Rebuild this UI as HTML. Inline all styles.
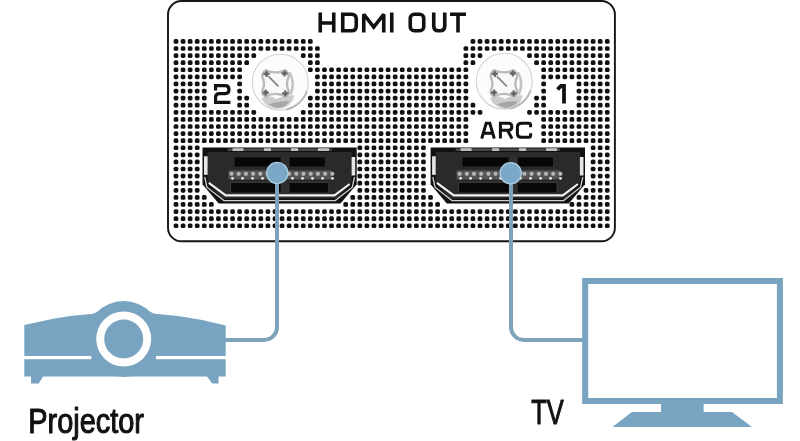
<!DOCTYPE html>
<html><head><meta charset="utf-8"><style>
html,body{margin:0;padding:0;background:#fff;}
svg{display:block;}
text{font-family:"Liberation Sans",sans-serif;}
</style></head><body>
<svg width="800" height="441" viewBox="0 0 800 441"><g style="transform:translateZ(0)">
<rect x="168" y="1" width="446.9" height="240.3" rx="13.5" fill="#fff" stroke="#151515" stroke-width="1.9"/>
<g fill="none" stroke="#111" stroke-width="3.6" stroke-linejoin="miter" stroke-miterlimit="3">
<path d="M320.25,12.5 V32.5 M333.75,12.5 V32.5 M320.25,23 H333.75"/>
<path d="M342.75,14.25 H351.5 Q356.25,14.25 356.25,19 V26 Q356.25,30.75 351.5,30.75 H342.75 Z"/>
<path d="M363.75,32.5 V14.25 L373.75,27 L383.75,14.25 V32.5"/>
<path d="M391.75,12.5 V32.5"/>
<rect x="410.25" y="14.25" width="13.5" height="16.5" rx="4"/>
<path d="M433.75,12.5 V26 Q433.75,30.75 438.5,30.75 H440 Q444.75,30.75 444.75,26 V12.5"/>
<path d="M450,14.25 H466 M458,14.25 V32.5"/>
</g>
<g fill="#111"><rect x="173.65" y="39.05" width="4.7" height="4.7" rx="1.6"/><rect x="180.72" y="39.05" width="4.7" height="4.7" rx="1.6"/><rect x="187.79" y="39.05" width="4.7" height="4.7" rx="1.6"/><rect x="194.86" y="39.05" width="4.7" height="4.7" rx="1.6"/><rect x="201.93" y="39.05" width="4.7" height="4.7" rx="1.6"/><rect x="209.00" y="39.05" width="4.7" height="4.7" rx="1.6"/><rect x="216.07" y="39.05" width="4.7" height="4.7" rx="1.6"/><rect x="223.14" y="39.05" width="4.7" height="4.7" rx="1.6"/><rect x="230.21" y="39.05" width="4.7" height="4.7" rx="1.6"/><rect x="237.28" y="39.05" width="4.7" height="4.7" rx="1.6"/><rect x="244.35" y="39.05" width="4.7" height="4.7" rx="1.6"/><rect x="251.42" y="39.05" width="4.7" height="4.7" rx="1.6"/><rect x="258.49" y="39.05" width="4.7" height="4.7" rx="1.6"/><rect x="265.56" y="39.05" width="4.7" height="4.7" rx="1.6"/><rect x="272.63" y="39.05" width="4.7" height="4.7" rx="1.6"/><rect x="279.70" y="39.05" width="4.7" height="4.7" rx="1.6"/><rect x="286.77" y="39.05" width="4.7" height="4.7" rx="1.6"/><rect x="293.84" y="39.05" width="4.7" height="4.7" rx="1.6"/><rect x="300.91" y="39.05" width="4.7" height="4.7" rx="1.6"/><rect x="307.98" y="39.05" width="4.7" height="4.7" rx="1.6"/><rect x="470.59" y="39.05" width="4.7" height="4.7" rx="1.6"/><rect x="477.66" y="39.05" width="4.7" height="4.7" rx="1.6"/><rect x="484.73" y="39.05" width="4.7" height="4.7" rx="1.6"/><rect x="491.80" y="39.05" width="4.7" height="4.7" rx="1.6"/><rect x="498.87" y="39.05" width="4.7" height="4.7" rx="1.6"/><rect x="505.94" y="39.05" width="4.7" height="4.7" rx="1.6"/><rect x="513.01" y="39.05" width="4.7" height="4.7" rx="1.6"/><rect x="520.08" y="39.05" width="4.7" height="4.7" rx="1.6"/><rect x="527.15" y="39.05" width="4.7" height="4.7" rx="1.6"/><rect x="534.22" y="39.05" width="4.7" height="4.7" rx="1.6"/><rect x="541.29" y="39.05" width="4.7" height="4.7" rx="1.6"/><rect x="548.36" y="39.05" width="4.7" height="4.7" rx="1.6"/><rect x="555.43" y="39.05" width="4.7" height="4.7" rx="1.6"/><rect x="562.50" y="39.05" width="4.7" height="4.7" rx="1.6"/><rect x="569.57" y="39.05" width="4.7" height="4.7" rx="1.6"/><rect x="576.64" y="39.05" width="4.7" height="4.7" rx="1.6"/><rect x="583.71" y="39.05" width="4.7" height="4.7" rx="1.6"/><rect x="590.78" y="39.05" width="4.7" height="4.7" rx="1.6"/><rect x="597.85" y="39.05" width="4.7" height="4.7" rx="1.6"/><rect x="604.92" y="39.05" width="4.7" height="4.7" rx="1.6"/><rect x="173.65" y="46.14" width="4.7" height="4.7" rx="1.6"/><rect x="180.72" y="46.14" width="4.7" height="4.7" rx="1.6"/><rect x="187.79" y="46.14" width="4.7" height="4.7" rx="1.6"/><rect x="194.86" y="46.14" width="4.7" height="4.7" rx="1.6"/><rect x="201.93" y="46.14" width="4.7" height="4.7" rx="1.6"/><rect x="209.00" y="46.14" width="4.7" height="4.7" rx="1.6"/><rect x="216.07" y="46.14" width="4.7" height="4.7" rx="1.6"/><rect x="223.14" y="46.14" width="4.7" height="4.7" rx="1.6"/><rect x="230.21" y="46.14" width="4.7" height="4.7" rx="1.6"/><rect x="237.28" y="46.14" width="4.7" height="4.7" rx="1.6"/><rect x="244.35" y="46.14" width="4.7" height="4.7" rx="1.6"/><rect x="251.42" y="46.14" width="4.7" height="4.7" rx="1.6"/><rect x="258.49" y="46.14" width="4.7" height="4.7" rx="1.6"/><rect x="265.56" y="46.14" width="4.7" height="4.7" rx="1.6"/><rect x="272.63" y="46.14" width="4.7" height="4.7" rx="1.6"/><rect x="279.70" y="46.14" width="4.7" height="4.7" rx="1.6"/><rect x="286.77" y="46.14" width="4.7" height="4.7" rx="1.6"/><rect x="293.84" y="46.14" width="4.7" height="4.7" rx="1.6"/><rect x="300.91" y="46.14" width="4.7" height="4.7" rx="1.6"/><rect x="307.98" y="46.14" width="4.7" height="4.7" rx="1.6"/><rect x="315.05" y="46.14" width="4.7" height="4.7" rx="1.6"/><rect x="463.52" y="46.14" width="4.7" height="4.7" rx="1.6"/><rect x="470.59" y="46.14" width="4.7" height="4.7" rx="1.6"/><rect x="477.66" y="46.14" width="4.7" height="4.7" rx="1.6"/><rect x="484.73" y="46.14" width="4.7" height="4.7" rx="1.6"/><rect x="491.80" y="46.14" width="4.7" height="4.7" rx="1.6"/><rect x="498.87" y="46.14" width="4.7" height="4.7" rx="1.6"/><rect x="505.94" y="46.14" width="4.7" height="4.7" rx="1.6"/><rect x="513.01" y="46.14" width="4.7" height="4.7" rx="1.6"/><rect x="520.08" y="46.14" width="4.7" height="4.7" rx="1.6"/><rect x="527.15" y="46.14" width="4.7" height="4.7" rx="1.6"/><rect x="534.22" y="46.14" width="4.7" height="4.7" rx="1.6"/><rect x="541.29" y="46.14" width="4.7" height="4.7" rx="1.6"/><rect x="548.36" y="46.14" width="4.7" height="4.7" rx="1.6"/><rect x="555.43" y="46.14" width="4.7" height="4.7" rx="1.6"/><rect x="562.50" y="46.14" width="4.7" height="4.7" rx="1.6"/><rect x="569.57" y="46.14" width="4.7" height="4.7" rx="1.6"/><rect x="576.64" y="46.14" width="4.7" height="4.7" rx="1.6"/><rect x="583.71" y="46.14" width="4.7" height="4.7" rx="1.6"/><rect x="590.78" y="46.14" width="4.7" height="4.7" rx="1.6"/><rect x="597.85" y="46.14" width="4.7" height="4.7" rx="1.6"/><rect x="604.92" y="46.14" width="4.7" height="4.7" rx="1.6"/><rect x="173.65" y="53.23" width="4.7" height="4.7" rx="1.6"/><rect x="180.72" y="53.23" width="4.7" height="4.7" rx="1.6"/><rect x="187.79" y="53.23" width="4.7" height="4.7" rx="1.6"/><rect x="194.86" y="53.23" width="4.7" height="4.7" rx="1.6"/><rect x="201.93" y="53.23" width="4.7" height="4.7" rx="1.6"/><rect x="209.00" y="53.23" width="4.7" height="4.7" rx="1.6"/><rect x="216.07" y="53.23" width="4.7" height="4.7" rx="1.6"/><rect x="223.14" y="53.23" width="4.7" height="4.7" rx="1.6"/><rect x="230.21" y="53.23" width="4.7" height="4.7" rx="1.6"/><rect x="237.28" y="53.23" width="4.7" height="4.7" rx="1.6"/><rect x="244.35" y="53.23" width="4.7" height="4.7" rx="1.6"/><rect x="251.42" y="53.23" width="4.7" height="4.7" rx="1.6"/><rect x="300.91" y="53.23" width="4.7" height="4.7" rx="1.6"/><rect x="307.98" y="53.23" width="4.7" height="4.7" rx="1.6"/><rect x="315.05" y="53.23" width="4.7" height="4.7" rx="1.6"/><rect x="463.52" y="53.23" width="4.7" height="4.7" rx="1.6"/><rect x="470.59" y="53.23" width="4.7" height="4.7" rx="1.6"/><rect x="477.66" y="53.23" width="4.7" height="4.7" rx="1.6"/><rect x="527.15" y="53.23" width="4.7" height="4.7" rx="1.6"/><rect x="534.22" y="53.23" width="4.7" height="4.7" rx="1.6"/><rect x="541.29" y="53.23" width="4.7" height="4.7" rx="1.6"/><rect x="548.36" y="53.23" width="4.7" height="4.7" rx="1.6"/><rect x="555.43" y="53.23" width="4.7" height="4.7" rx="1.6"/><rect x="562.50" y="53.23" width="4.7" height="4.7" rx="1.6"/><rect x="569.57" y="53.23" width="4.7" height="4.7" rx="1.6"/><rect x="576.64" y="53.23" width="4.7" height="4.7" rx="1.6"/><rect x="583.71" y="53.23" width="4.7" height="4.7" rx="1.6"/><rect x="590.78" y="53.23" width="4.7" height="4.7" rx="1.6"/><rect x="597.85" y="53.23" width="4.7" height="4.7" rx="1.6"/><rect x="604.92" y="53.23" width="4.7" height="4.7" rx="1.6"/><rect x="173.65" y="60.32" width="4.7" height="4.7" rx="1.6"/><rect x="180.72" y="60.32" width="4.7" height="4.7" rx="1.6"/><rect x="187.79" y="60.32" width="4.7" height="4.7" rx="1.6"/><rect x="194.86" y="60.32" width="4.7" height="4.7" rx="1.6"/><rect x="201.93" y="60.32" width="4.7" height="4.7" rx="1.6"/><rect x="209.00" y="60.32" width="4.7" height="4.7" rx="1.6"/><rect x="216.07" y="60.32" width="4.7" height="4.7" rx="1.6"/><rect x="223.14" y="60.32" width="4.7" height="4.7" rx="1.6"/><rect x="230.21" y="60.32" width="4.7" height="4.7" rx="1.6"/><rect x="237.28" y="60.32" width="4.7" height="4.7" rx="1.6"/><rect x="244.35" y="60.32" width="4.7" height="4.7" rx="1.6"/><rect x="307.98" y="60.32" width="4.7" height="4.7" rx="1.6"/><rect x="315.05" y="60.32" width="4.7" height="4.7" rx="1.6"/><rect x="463.52" y="60.32" width="4.7" height="4.7" rx="1.6"/><rect x="470.59" y="60.32" width="4.7" height="4.7" rx="1.6"/><rect x="534.22" y="60.32" width="4.7" height="4.7" rx="1.6"/><rect x="541.29" y="60.32" width="4.7" height="4.7" rx="1.6"/><rect x="548.36" y="60.32" width="4.7" height="4.7" rx="1.6"/><rect x="555.43" y="60.32" width="4.7" height="4.7" rx="1.6"/><rect x="562.50" y="60.32" width="4.7" height="4.7" rx="1.6"/><rect x="569.57" y="60.32" width="4.7" height="4.7" rx="1.6"/><rect x="576.64" y="60.32" width="4.7" height="4.7" rx="1.6"/><rect x="583.71" y="60.32" width="4.7" height="4.7" rx="1.6"/><rect x="590.78" y="60.32" width="4.7" height="4.7" rx="1.6"/><rect x="597.85" y="60.32" width="4.7" height="4.7" rx="1.6"/><rect x="604.92" y="60.32" width="4.7" height="4.7" rx="1.6"/><rect x="173.65" y="67.41" width="4.7" height="4.7" rx="1.6"/><rect x="180.72" y="67.41" width="4.7" height="4.7" rx="1.6"/><rect x="187.79" y="67.41" width="4.7" height="4.7" rx="1.6"/><rect x="194.86" y="67.41" width="4.7" height="4.7" rx="1.6"/><rect x="201.93" y="67.41" width="4.7" height="4.7" rx="1.6"/><rect x="209.00" y="67.41" width="4.7" height="4.7" rx="1.6"/><rect x="216.07" y="67.41" width="4.7" height="4.7" rx="1.6"/><rect x="223.14" y="67.41" width="4.7" height="4.7" rx="1.6"/><rect x="230.21" y="67.41" width="4.7" height="4.7" rx="1.6"/><rect x="237.28" y="67.41" width="4.7" height="4.7" rx="1.6"/><rect x="307.98" y="67.41" width="4.7" height="4.7" rx="1.6"/><rect x="315.05" y="67.41" width="4.7" height="4.7" rx="1.6"/><rect x="322.12" y="67.41" width="4.7" height="4.7" rx="1.6"/><rect x="329.19" y="67.41" width="4.7" height="4.7" rx="1.6"/><rect x="336.26" y="67.41" width="4.7" height="4.7" rx="1.6"/><rect x="343.33" y="67.41" width="4.7" height="4.7" rx="1.6"/><rect x="350.40" y="67.41" width="4.7" height="4.7" rx="1.6"/><rect x="357.47" y="67.41" width="4.7" height="4.7" rx="1.6"/><rect x="364.54" y="67.41" width="4.7" height="4.7" rx="1.6"/><rect x="371.61" y="67.41" width="4.7" height="4.7" rx="1.6"/><rect x="378.68" y="67.41" width="4.7" height="4.7" rx="1.6"/><rect x="385.75" y="67.41" width="4.7" height="4.7" rx="1.6"/><rect x="392.82" y="67.41" width="4.7" height="4.7" rx="1.6"/><rect x="399.89" y="67.41" width="4.7" height="4.7" rx="1.6"/><rect x="406.96" y="67.41" width="4.7" height="4.7" rx="1.6"/><rect x="414.03" y="67.41" width="4.7" height="4.7" rx="1.6"/><rect x="421.10" y="67.41" width="4.7" height="4.7" rx="1.6"/><rect x="428.17" y="67.41" width="4.7" height="4.7" rx="1.6"/><rect x="435.24" y="67.41" width="4.7" height="4.7" rx="1.6"/><rect x="442.31" y="67.41" width="4.7" height="4.7" rx="1.6"/><rect x="449.38" y="67.41" width="4.7" height="4.7" rx="1.6"/><rect x="456.45" y="67.41" width="4.7" height="4.7" rx="1.6"/><rect x="463.52" y="67.41" width="4.7" height="4.7" rx="1.6"/><rect x="541.29" y="67.41" width="4.7" height="4.7" rx="1.6"/><rect x="548.36" y="67.41" width="4.7" height="4.7" rx="1.6"/><rect x="555.43" y="67.41" width="4.7" height="4.7" rx="1.6"/><rect x="562.50" y="67.41" width="4.7" height="4.7" rx="1.6"/><rect x="569.57" y="67.41" width="4.7" height="4.7" rx="1.6"/><rect x="576.64" y="67.41" width="4.7" height="4.7" rx="1.6"/><rect x="583.71" y="67.41" width="4.7" height="4.7" rx="1.6"/><rect x="590.78" y="67.41" width="4.7" height="4.7" rx="1.6"/><rect x="597.85" y="67.41" width="4.7" height="4.7" rx="1.6"/><rect x="604.92" y="67.41" width="4.7" height="4.7" rx="1.6"/><rect x="173.65" y="74.50" width="4.7" height="4.7" rx="1.6"/><rect x="180.72" y="74.50" width="4.7" height="4.7" rx="1.6"/><rect x="187.79" y="74.50" width="4.7" height="4.7" rx="1.6"/><rect x="194.86" y="74.50" width="4.7" height="4.7" rx="1.6"/><rect x="201.93" y="74.50" width="4.7" height="4.7" rx="1.6"/><rect x="209.00" y="74.50" width="4.7" height="4.7" rx="1.6"/><rect x="216.07" y="74.50" width="4.7" height="4.7" rx="1.6"/><rect x="223.14" y="74.50" width="4.7" height="4.7" rx="1.6"/><rect x="230.21" y="74.50" width="4.7" height="4.7" rx="1.6"/><rect x="237.28" y="74.50" width="4.7" height="4.7" rx="1.6"/><rect x="315.05" y="74.50" width="4.7" height="4.7" rx="1.6"/><rect x="322.12" y="74.50" width="4.7" height="4.7" rx="1.6"/><rect x="329.19" y="74.50" width="4.7" height="4.7" rx="1.6"/><rect x="336.26" y="74.50" width="4.7" height="4.7" rx="1.6"/><rect x="343.33" y="74.50" width="4.7" height="4.7" rx="1.6"/><rect x="350.40" y="74.50" width="4.7" height="4.7" rx="1.6"/><rect x="357.47" y="74.50" width="4.7" height="4.7" rx="1.6"/><rect x="364.54" y="74.50" width="4.7" height="4.7" rx="1.6"/><rect x="371.61" y="74.50" width="4.7" height="4.7" rx="1.6"/><rect x="378.68" y="74.50" width="4.7" height="4.7" rx="1.6"/><rect x="385.75" y="74.50" width="4.7" height="4.7" rx="1.6"/><rect x="392.82" y="74.50" width="4.7" height="4.7" rx="1.6"/><rect x="399.89" y="74.50" width="4.7" height="4.7" rx="1.6"/><rect x="406.96" y="74.50" width="4.7" height="4.7" rx="1.6"/><rect x="414.03" y="74.50" width="4.7" height="4.7" rx="1.6"/><rect x="421.10" y="74.50" width="4.7" height="4.7" rx="1.6"/><rect x="428.17" y="74.50" width="4.7" height="4.7" rx="1.6"/><rect x="435.24" y="74.50" width="4.7" height="4.7" rx="1.6"/><rect x="442.31" y="74.50" width="4.7" height="4.7" rx="1.6"/><rect x="449.38" y="74.50" width="4.7" height="4.7" rx="1.6"/><rect x="456.45" y="74.50" width="4.7" height="4.7" rx="1.6"/><rect x="463.52" y="74.50" width="4.7" height="4.7" rx="1.6"/><rect x="541.29" y="74.50" width="4.7" height="4.7" rx="1.6"/><rect x="548.36" y="74.50" width="4.7" height="4.7" rx="1.6"/><rect x="555.43" y="74.50" width="4.7" height="4.7" rx="1.6"/><rect x="562.50" y="74.50" width="4.7" height="4.7" rx="1.6"/><rect x="569.57" y="74.50" width="4.7" height="4.7" rx="1.6"/><rect x="576.64" y="74.50" width="4.7" height="4.7" rx="1.6"/><rect x="583.71" y="74.50" width="4.7" height="4.7" rx="1.6"/><rect x="590.78" y="74.50" width="4.7" height="4.7" rx="1.6"/><rect x="597.85" y="74.50" width="4.7" height="4.7" rx="1.6"/><rect x="604.92" y="74.50" width="4.7" height="4.7" rx="1.6"/><rect x="173.65" y="81.59" width="4.7" height="4.7" rx="1.6"/><rect x="180.72" y="81.59" width="4.7" height="4.7" rx="1.6"/><rect x="187.79" y="81.59" width="4.7" height="4.7" rx="1.6"/><rect x="194.86" y="81.59" width="4.7" height="4.7" rx="1.6"/><rect x="201.93" y="81.59" width="4.7" height="4.7" rx="1.6"/><rect x="237.28" y="81.59" width="4.7" height="4.7" rx="1.6"/><rect x="315.05" y="81.59" width="4.7" height="4.7" rx="1.6"/><rect x="322.12" y="81.59" width="4.7" height="4.7" rx="1.6"/><rect x="329.19" y="81.59" width="4.7" height="4.7" rx="1.6"/><rect x="336.26" y="81.59" width="4.7" height="4.7" rx="1.6"/><rect x="343.33" y="81.59" width="4.7" height="4.7" rx="1.6"/><rect x="350.40" y="81.59" width="4.7" height="4.7" rx="1.6"/><rect x="357.47" y="81.59" width="4.7" height="4.7" rx="1.6"/><rect x="364.54" y="81.59" width="4.7" height="4.7" rx="1.6"/><rect x="371.61" y="81.59" width="4.7" height="4.7" rx="1.6"/><rect x="378.68" y="81.59" width="4.7" height="4.7" rx="1.6"/><rect x="385.75" y="81.59" width="4.7" height="4.7" rx="1.6"/><rect x="392.82" y="81.59" width="4.7" height="4.7" rx="1.6"/><rect x="399.89" y="81.59" width="4.7" height="4.7" rx="1.6"/><rect x="406.96" y="81.59" width="4.7" height="4.7" rx="1.6"/><rect x="414.03" y="81.59" width="4.7" height="4.7" rx="1.6"/><rect x="421.10" y="81.59" width="4.7" height="4.7" rx="1.6"/><rect x="428.17" y="81.59" width="4.7" height="4.7" rx="1.6"/><rect x="435.24" y="81.59" width="4.7" height="4.7" rx="1.6"/><rect x="442.31" y="81.59" width="4.7" height="4.7" rx="1.6"/><rect x="449.38" y="81.59" width="4.7" height="4.7" rx="1.6"/><rect x="456.45" y="81.59" width="4.7" height="4.7" rx="1.6"/><rect x="463.52" y="81.59" width="4.7" height="4.7" rx="1.6"/><rect x="541.29" y="81.59" width="4.7" height="4.7" rx="1.6"/><rect x="576.64" y="81.59" width="4.7" height="4.7" rx="1.6"/><rect x="583.71" y="81.59" width="4.7" height="4.7" rx="1.6"/><rect x="590.78" y="81.59" width="4.7" height="4.7" rx="1.6"/><rect x="597.85" y="81.59" width="4.7" height="4.7" rx="1.6"/><rect x="604.92" y="81.59" width="4.7" height="4.7" rx="1.6"/><rect x="173.65" y="88.68" width="4.7" height="4.7" rx="1.6"/><rect x="180.72" y="88.68" width="4.7" height="4.7" rx="1.6"/><rect x="187.79" y="88.68" width="4.7" height="4.7" rx="1.6"/><rect x="194.86" y="88.68" width="4.7" height="4.7" rx="1.6"/><rect x="201.93" y="88.68" width="4.7" height="4.7" rx="1.6"/><rect x="237.28" y="88.68" width="4.7" height="4.7" rx="1.6"/><rect x="315.05" y="88.68" width="4.7" height="4.7" rx="1.6"/><rect x="322.12" y="88.68" width="4.7" height="4.7" rx="1.6"/><rect x="329.19" y="88.68" width="4.7" height="4.7" rx="1.6"/><rect x="336.26" y="88.68" width="4.7" height="4.7" rx="1.6"/><rect x="343.33" y="88.68" width="4.7" height="4.7" rx="1.6"/><rect x="350.40" y="88.68" width="4.7" height="4.7" rx="1.6"/><rect x="357.47" y="88.68" width="4.7" height="4.7" rx="1.6"/><rect x="364.54" y="88.68" width="4.7" height="4.7" rx="1.6"/><rect x="371.61" y="88.68" width="4.7" height="4.7" rx="1.6"/><rect x="378.68" y="88.68" width="4.7" height="4.7" rx="1.6"/><rect x="385.75" y="88.68" width="4.7" height="4.7" rx="1.6"/><rect x="392.82" y="88.68" width="4.7" height="4.7" rx="1.6"/><rect x="399.89" y="88.68" width="4.7" height="4.7" rx="1.6"/><rect x="406.96" y="88.68" width="4.7" height="4.7" rx="1.6"/><rect x="414.03" y="88.68" width="4.7" height="4.7" rx="1.6"/><rect x="421.10" y="88.68" width="4.7" height="4.7" rx="1.6"/><rect x="428.17" y="88.68" width="4.7" height="4.7" rx="1.6"/><rect x="435.24" y="88.68" width="4.7" height="4.7" rx="1.6"/><rect x="442.31" y="88.68" width="4.7" height="4.7" rx="1.6"/><rect x="449.38" y="88.68" width="4.7" height="4.7" rx="1.6"/><rect x="456.45" y="88.68" width="4.7" height="4.7" rx="1.6"/><rect x="463.52" y="88.68" width="4.7" height="4.7" rx="1.6"/><rect x="541.29" y="88.68" width="4.7" height="4.7" rx="1.6"/><rect x="576.64" y="88.68" width="4.7" height="4.7" rx="1.6"/><rect x="583.71" y="88.68" width="4.7" height="4.7" rx="1.6"/><rect x="590.78" y="88.68" width="4.7" height="4.7" rx="1.6"/><rect x="597.85" y="88.68" width="4.7" height="4.7" rx="1.6"/><rect x="604.92" y="88.68" width="4.7" height="4.7" rx="1.6"/><rect x="173.65" y="95.77" width="4.7" height="4.7" rx="1.6"/><rect x="180.72" y="95.77" width="4.7" height="4.7" rx="1.6"/><rect x="187.79" y="95.77" width="4.7" height="4.7" rx="1.6"/><rect x="194.86" y="95.77" width="4.7" height="4.7" rx="1.6"/><rect x="201.93" y="95.77" width="4.7" height="4.7" rx="1.6"/><rect x="237.28" y="95.77" width="4.7" height="4.7" rx="1.6"/><rect x="244.35" y="95.77" width="4.7" height="4.7" rx="1.6"/><rect x="307.98" y="95.77" width="4.7" height="4.7" rx="1.6"/><rect x="315.05" y="95.77" width="4.7" height="4.7" rx="1.6"/><rect x="322.12" y="95.77" width="4.7" height="4.7" rx="1.6"/><rect x="329.19" y="95.77" width="4.7" height="4.7" rx="1.6"/><rect x="336.26" y="95.77" width="4.7" height="4.7" rx="1.6"/><rect x="343.33" y="95.77" width="4.7" height="4.7" rx="1.6"/><rect x="350.40" y="95.77" width="4.7" height="4.7" rx="1.6"/><rect x="357.47" y="95.77" width="4.7" height="4.7" rx="1.6"/><rect x="364.54" y="95.77" width="4.7" height="4.7" rx="1.6"/><rect x="371.61" y="95.77" width="4.7" height="4.7" rx="1.6"/><rect x="378.68" y="95.77" width="4.7" height="4.7" rx="1.6"/><rect x="385.75" y="95.77" width="4.7" height="4.7" rx="1.6"/><rect x="392.82" y="95.77" width="4.7" height="4.7" rx="1.6"/><rect x="399.89" y="95.77" width="4.7" height="4.7" rx="1.6"/><rect x="406.96" y="95.77" width="4.7" height="4.7" rx="1.6"/><rect x="414.03" y="95.77" width="4.7" height="4.7" rx="1.6"/><rect x="421.10" y="95.77" width="4.7" height="4.7" rx="1.6"/><rect x="428.17" y="95.77" width="4.7" height="4.7" rx="1.6"/><rect x="435.24" y="95.77" width="4.7" height="4.7" rx="1.6"/><rect x="442.31" y="95.77" width="4.7" height="4.7" rx="1.6"/><rect x="449.38" y="95.77" width="4.7" height="4.7" rx="1.6"/><rect x="456.45" y="95.77" width="4.7" height="4.7" rx="1.6"/><rect x="463.52" y="95.77" width="4.7" height="4.7" rx="1.6"/><rect x="534.22" y="95.77" width="4.7" height="4.7" rx="1.6"/><rect x="541.29" y="95.77" width="4.7" height="4.7" rx="1.6"/><rect x="576.64" y="95.77" width="4.7" height="4.7" rx="1.6"/><rect x="583.71" y="95.77" width="4.7" height="4.7" rx="1.6"/><rect x="590.78" y="95.77" width="4.7" height="4.7" rx="1.6"/><rect x="597.85" y="95.77" width="4.7" height="4.7" rx="1.6"/><rect x="604.92" y="95.77" width="4.7" height="4.7" rx="1.6"/><rect x="173.65" y="102.86" width="4.7" height="4.7" rx="1.6"/><rect x="180.72" y="102.86" width="4.7" height="4.7" rx="1.6"/><rect x="187.79" y="102.86" width="4.7" height="4.7" rx="1.6"/><rect x="194.86" y="102.86" width="4.7" height="4.7" rx="1.6"/><rect x="201.93" y="102.86" width="4.7" height="4.7" rx="1.6"/><rect x="237.28" y="102.86" width="4.7" height="4.7" rx="1.6"/><rect x="244.35" y="102.86" width="4.7" height="4.7" rx="1.6"/><rect x="307.98" y="102.86" width="4.7" height="4.7" rx="1.6"/><rect x="315.05" y="102.86" width="4.7" height="4.7" rx="1.6"/><rect x="322.12" y="102.86" width="4.7" height="4.7" rx="1.6"/><rect x="329.19" y="102.86" width="4.7" height="4.7" rx="1.6"/><rect x="336.26" y="102.86" width="4.7" height="4.7" rx="1.6"/><rect x="343.33" y="102.86" width="4.7" height="4.7" rx="1.6"/><rect x="350.40" y="102.86" width="4.7" height="4.7" rx="1.6"/><rect x="357.47" y="102.86" width="4.7" height="4.7" rx="1.6"/><rect x="364.54" y="102.86" width="4.7" height="4.7" rx="1.6"/><rect x="371.61" y="102.86" width="4.7" height="4.7" rx="1.6"/><rect x="378.68" y="102.86" width="4.7" height="4.7" rx="1.6"/><rect x="385.75" y="102.86" width="4.7" height="4.7" rx="1.6"/><rect x="392.82" y="102.86" width="4.7" height="4.7" rx="1.6"/><rect x="399.89" y="102.86" width="4.7" height="4.7" rx="1.6"/><rect x="406.96" y="102.86" width="4.7" height="4.7" rx="1.6"/><rect x="414.03" y="102.86" width="4.7" height="4.7" rx="1.6"/><rect x="421.10" y="102.86" width="4.7" height="4.7" rx="1.6"/><rect x="428.17" y="102.86" width="4.7" height="4.7" rx="1.6"/><rect x="435.24" y="102.86" width="4.7" height="4.7" rx="1.6"/><rect x="442.31" y="102.86" width="4.7" height="4.7" rx="1.6"/><rect x="449.38" y="102.86" width="4.7" height="4.7" rx="1.6"/><rect x="456.45" y="102.86" width="4.7" height="4.7" rx="1.6"/><rect x="463.52" y="102.86" width="4.7" height="4.7" rx="1.6"/><rect x="470.59" y="102.86" width="4.7" height="4.7" rx="1.6"/><rect x="534.22" y="102.86" width="4.7" height="4.7" rx="1.6"/><rect x="541.29" y="102.86" width="4.7" height="4.7" rx="1.6"/><rect x="576.64" y="102.86" width="4.7" height="4.7" rx="1.6"/><rect x="583.71" y="102.86" width="4.7" height="4.7" rx="1.6"/><rect x="590.78" y="102.86" width="4.7" height="4.7" rx="1.6"/><rect x="597.85" y="102.86" width="4.7" height="4.7" rx="1.6"/><rect x="604.92" y="102.86" width="4.7" height="4.7" rx="1.6"/><rect x="173.65" y="109.95" width="4.7" height="4.7" rx="1.6"/><rect x="180.72" y="109.95" width="4.7" height="4.7" rx="1.6"/><rect x="187.79" y="109.95" width="4.7" height="4.7" rx="1.6"/><rect x="194.86" y="109.95" width="4.7" height="4.7" rx="1.6"/><rect x="201.93" y="109.95" width="4.7" height="4.7" rx="1.6"/><rect x="209.00" y="109.95" width="4.7" height="4.7" rx="1.6"/><rect x="216.07" y="109.95" width="4.7" height="4.7" rx="1.6"/><rect x="223.14" y="109.95" width="4.7" height="4.7" rx="1.6"/><rect x="230.21" y="109.95" width="4.7" height="4.7" rx="1.6"/><rect x="237.28" y="109.95" width="4.7" height="4.7" rx="1.6"/><rect x="244.35" y="109.95" width="4.7" height="4.7" rx="1.6"/><rect x="251.42" y="109.95" width="4.7" height="4.7" rx="1.6"/><rect x="300.91" y="109.95" width="4.7" height="4.7" rx="1.6"/><rect x="307.98" y="109.95" width="4.7" height="4.7" rx="1.6"/><rect x="315.05" y="109.95" width="4.7" height="4.7" rx="1.6"/><rect x="322.12" y="109.95" width="4.7" height="4.7" rx="1.6"/><rect x="329.19" y="109.95" width="4.7" height="4.7" rx="1.6"/><rect x="336.26" y="109.95" width="4.7" height="4.7" rx="1.6"/><rect x="343.33" y="109.95" width="4.7" height="4.7" rx="1.6"/><rect x="350.40" y="109.95" width="4.7" height="4.7" rx="1.6"/><rect x="357.47" y="109.95" width="4.7" height="4.7" rx="1.6"/><rect x="364.54" y="109.95" width="4.7" height="4.7" rx="1.6"/><rect x="371.61" y="109.95" width="4.7" height="4.7" rx="1.6"/><rect x="378.68" y="109.95" width="4.7" height="4.7" rx="1.6"/><rect x="385.75" y="109.95" width="4.7" height="4.7" rx="1.6"/><rect x="392.82" y="109.95" width="4.7" height="4.7" rx="1.6"/><rect x="399.89" y="109.95" width="4.7" height="4.7" rx="1.6"/><rect x="406.96" y="109.95" width="4.7" height="4.7" rx="1.6"/><rect x="414.03" y="109.95" width="4.7" height="4.7" rx="1.6"/><rect x="421.10" y="109.95" width="4.7" height="4.7" rx="1.6"/><rect x="428.17" y="109.95" width="4.7" height="4.7" rx="1.6"/><rect x="435.24" y="109.95" width="4.7" height="4.7" rx="1.6"/><rect x="442.31" y="109.95" width="4.7" height="4.7" rx="1.6"/><rect x="449.38" y="109.95" width="4.7" height="4.7" rx="1.6"/><rect x="456.45" y="109.95" width="4.7" height="4.7" rx="1.6"/><rect x="463.52" y="109.95" width="4.7" height="4.7" rx="1.6"/><rect x="470.59" y="109.95" width="4.7" height="4.7" rx="1.6"/><rect x="477.66" y="109.95" width="4.7" height="4.7" rx="1.6"/><rect x="527.15" y="109.95" width="4.7" height="4.7" rx="1.6"/><rect x="534.22" y="109.95" width="4.7" height="4.7" rx="1.6"/><rect x="541.29" y="109.95" width="4.7" height="4.7" rx="1.6"/><rect x="548.36" y="109.95" width="4.7" height="4.7" rx="1.6"/><rect x="555.43" y="109.95" width="4.7" height="4.7" rx="1.6"/><rect x="562.50" y="109.95" width="4.7" height="4.7" rx="1.6"/><rect x="569.57" y="109.95" width="4.7" height="4.7" rx="1.6"/><rect x="576.64" y="109.95" width="4.7" height="4.7" rx="1.6"/><rect x="583.71" y="109.95" width="4.7" height="4.7" rx="1.6"/><rect x="590.78" y="109.95" width="4.7" height="4.7" rx="1.6"/><rect x="597.85" y="109.95" width="4.7" height="4.7" rx="1.6"/><rect x="604.92" y="109.95" width="4.7" height="4.7" rx="1.6"/><rect x="173.65" y="117.04" width="4.7" height="4.7" rx="1.6"/><rect x="180.72" y="117.04" width="4.7" height="4.7" rx="1.6"/><rect x="187.79" y="117.04" width="4.7" height="4.7" rx="1.6"/><rect x="194.86" y="117.04" width="4.7" height="4.7" rx="1.6"/><rect x="201.93" y="117.04" width="4.7" height="4.7" rx="1.6"/><rect x="209.00" y="117.04" width="4.7" height="4.7" rx="1.6"/><rect x="216.07" y="117.04" width="4.7" height="4.7" rx="1.6"/><rect x="223.14" y="117.04" width="4.7" height="4.7" rx="1.6"/><rect x="230.21" y="117.04" width="4.7" height="4.7" rx="1.6"/><rect x="237.28" y="117.04" width="4.7" height="4.7" rx="1.6"/><rect x="244.35" y="117.04" width="4.7" height="4.7" rx="1.6"/><rect x="251.42" y="117.04" width="4.7" height="4.7" rx="1.6"/><rect x="258.49" y="117.04" width="4.7" height="4.7" rx="1.6"/><rect x="265.56" y="117.04" width="4.7" height="4.7" rx="1.6"/><rect x="272.63" y="117.04" width="4.7" height="4.7" rx="1.6"/><rect x="279.70" y="117.04" width="4.7" height="4.7" rx="1.6"/><rect x="286.77" y="117.04" width="4.7" height="4.7" rx="1.6"/><rect x="293.84" y="117.04" width="4.7" height="4.7" rx="1.6"/><rect x="300.91" y="117.04" width="4.7" height="4.7" rx="1.6"/><rect x="307.98" y="117.04" width="4.7" height="4.7" rx="1.6"/><rect x="315.05" y="117.04" width="4.7" height="4.7" rx="1.6"/><rect x="322.12" y="117.04" width="4.7" height="4.7" rx="1.6"/><rect x="329.19" y="117.04" width="4.7" height="4.7" rx="1.6"/><rect x="336.26" y="117.04" width="4.7" height="4.7" rx="1.6"/><rect x="343.33" y="117.04" width="4.7" height="4.7" rx="1.6"/><rect x="350.40" y="117.04" width="4.7" height="4.7" rx="1.6"/><rect x="357.47" y="117.04" width="4.7" height="4.7" rx="1.6"/><rect x="364.54" y="117.04" width="4.7" height="4.7" rx="1.6"/><rect x="371.61" y="117.04" width="4.7" height="4.7" rx="1.6"/><rect x="378.68" y="117.04" width="4.7" height="4.7" rx="1.6"/><rect x="385.75" y="117.04" width="4.7" height="4.7" rx="1.6"/><rect x="392.82" y="117.04" width="4.7" height="4.7" rx="1.6"/><rect x="399.89" y="117.04" width="4.7" height="4.7" rx="1.6"/><rect x="406.96" y="117.04" width="4.7" height="4.7" rx="1.6"/><rect x="414.03" y="117.04" width="4.7" height="4.7" rx="1.6"/><rect x="421.10" y="117.04" width="4.7" height="4.7" rx="1.6"/><rect x="428.17" y="117.04" width="4.7" height="4.7" rx="1.6"/><rect x="435.24" y="117.04" width="4.7" height="4.7" rx="1.6"/><rect x="442.31" y="117.04" width="4.7" height="4.7" rx="1.6"/><rect x="449.38" y="117.04" width="4.7" height="4.7" rx="1.6"/><rect x="456.45" y="117.04" width="4.7" height="4.7" rx="1.6"/><rect x="463.52" y="117.04" width="4.7" height="4.7" rx="1.6"/><rect x="541.29" y="117.04" width="4.7" height="4.7" rx="1.6"/><rect x="548.36" y="117.04" width="4.7" height="4.7" rx="1.6"/><rect x="555.43" y="117.04" width="4.7" height="4.7" rx="1.6"/><rect x="562.50" y="117.04" width="4.7" height="4.7" rx="1.6"/><rect x="569.57" y="117.04" width="4.7" height="4.7" rx="1.6"/><rect x="576.64" y="117.04" width="4.7" height="4.7" rx="1.6"/><rect x="583.71" y="117.04" width="4.7" height="4.7" rx="1.6"/><rect x="590.78" y="117.04" width="4.7" height="4.7" rx="1.6"/><rect x="597.85" y="117.04" width="4.7" height="4.7" rx="1.6"/><rect x="604.92" y="117.04" width="4.7" height="4.7" rx="1.6"/><rect x="173.65" y="124.13" width="4.7" height="4.7" rx="1.6"/><rect x="180.72" y="124.13" width="4.7" height="4.7" rx="1.6"/><rect x="187.79" y="124.13" width="4.7" height="4.7" rx="1.6"/><rect x="194.86" y="124.13" width="4.7" height="4.7" rx="1.6"/><rect x="201.93" y="124.13" width="4.7" height="4.7" rx="1.6"/><rect x="209.00" y="124.13" width="4.7" height="4.7" rx="1.6"/><rect x="216.07" y="124.13" width="4.7" height="4.7" rx="1.6"/><rect x="223.14" y="124.13" width="4.7" height="4.7" rx="1.6"/><rect x="230.21" y="124.13" width="4.7" height="4.7" rx="1.6"/><rect x="237.28" y="124.13" width="4.7" height="4.7" rx="1.6"/><rect x="244.35" y="124.13" width="4.7" height="4.7" rx="1.6"/><rect x="251.42" y="124.13" width="4.7" height="4.7" rx="1.6"/><rect x="258.49" y="124.13" width="4.7" height="4.7" rx="1.6"/><rect x="265.56" y="124.13" width="4.7" height="4.7" rx="1.6"/><rect x="272.63" y="124.13" width="4.7" height="4.7" rx="1.6"/><rect x="279.70" y="124.13" width="4.7" height="4.7" rx="1.6"/><rect x="286.77" y="124.13" width="4.7" height="4.7" rx="1.6"/><rect x="293.84" y="124.13" width="4.7" height="4.7" rx="1.6"/><rect x="300.91" y="124.13" width="4.7" height="4.7" rx="1.6"/><rect x="307.98" y="124.13" width="4.7" height="4.7" rx="1.6"/><rect x="315.05" y="124.13" width="4.7" height="4.7" rx="1.6"/><rect x="322.12" y="124.13" width="4.7" height="4.7" rx="1.6"/><rect x="329.19" y="124.13" width="4.7" height="4.7" rx="1.6"/><rect x="336.26" y="124.13" width="4.7" height="4.7" rx="1.6"/><rect x="343.33" y="124.13" width="4.7" height="4.7" rx="1.6"/><rect x="350.40" y="124.13" width="4.7" height="4.7" rx="1.6"/><rect x="357.47" y="124.13" width="4.7" height="4.7" rx="1.6"/><rect x="364.54" y="124.13" width="4.7" height="4.7" rx="1.6"/><rect x="371.61" y="124.13" width="4.7" height="4.7" rx="1.6"/><rect x="378.68" y="124.13" width="4.7" height="4.7" rx="1.6"/><rect x="385.75" y="124.13" width="4.7" height="4.7" rx="1.6"/><rect x="392.82" y="124.13" width="4.7" height="4.7" rx="1.6"/><rect x="399.89" y="124.13" width="4.7" height="4.7" rx="1.6"/><rect x="406.96" y="124.13" width="4.7" height="4.7" rx="1.6"/><rect x="414.03" y="124.13" width="4.7" height="4.7" rx="1.6"/><rect x="421.10" y="124.13" width="4.7" height="4.7" rx="1.6"/><rect x="428.17" y="124.13" width="4.7" height="4.7" rx="1.6"/><rect x="435.24" y="124.13" width="4.7" height="4.7" rx="1.6"/><rect x="442.31" y="124.13" width="4.7" height="4.7" rx="1.6"/><rect x="449.38" y="124.13" width="4.7" height="4.7" rx="1.6"/><rect x="456.45" y="124.13" width="4.7" height="4.7" rx="1.6"/><rect x="463.52" y="124.13" width="4.7" height="4.7" rx="1.6"/><rect x="541.29" y="124.13" width="4.7" height="4.7" rx="1.6"/><rect x="548.36" y="124.13" width="4.7" height="4.7" rx="1.6"/><rect x="555.43" y="124.13" width="4.7" height="4.7" rx="1.6"/><rect x="562.50" y="124.13" width="4.7" height="4.7" rx="1.6"/><rect x="569.57" y="124.13" width="4.7" height="4.7" rx="1.6"/><rect x="576.64" y="124.13" width="4.7" height="4.7" rx="1.6"/><rect x="583.71" y="124.13" width="4.7" height="4.7" rx="1.6"/><rect x="590.78" y="124.13" width="4.7" height="4.7" rx="1.6"/><rect x="597.85" y="124.13" width="4.7" height="4.7" rx="1.6"/><rect x="604.92" y="124.13" width="4.7" height="4.7" rx="1.6"/><rect x="173.65" y="131.22" width="4.7" height="4.7" rx="1.6"/><rect x="180.72" y="131.22" width="4.7" height="4.7" rx="1.6"/><rect x="187.79" y="131.22" width="4.7" height="4.7" rx="1.6"/><rect x="194.86" y="131.22" width="4.7" height="4.7" rx="1.6"/><rect x="201.93" y="131.22" width="4.7" height="4.7" rx="1.6"/><rect x="209.00" y="131.22" width="4.7" height="4.7" rx="1.6"/><rect x="216.07" y="131.22" width="4.7" height="4.7" rx="1.6"/><rect x="223.14" y="131.22" width="4.7" height="4.7" rx="1.6"/><rect x="230.21" y="131.22" width="4.7" height="4.7" rx="1.6"/><rect x="237.28" y="131.22" width="4.7" height="4.7" rx="1.6"/><rect x="244.35" y="131.22" width="4.7" height="4.7" rx="1.6"/><rect x="251.42" y="131.22" width="4.7" height="4.7" rx="1.6"/><rect x="258.49" y="131.22" width="4.7" height="4.7" rx="1.6"/><rect x="265.56" y="131.22" width="4.7" height="4.7" rx="1.6"/><rect x="272.63" y="131.22" width="4.7" height="4.7" rx="1.6"/><rect x="279.70" y="131.22" width="4.7" height="4.7" rx="1.6"/><rect x="286.77" y="131.22" width="4.7" height="4.7" rx="1.6"/><rect x="293.84" y="131.22" width="4.7" height="4.7" rx="1.6"/><rect x="300.91" y="131.22" width="4.7" height="4.7" rx="1.6"/><rect x="307.98" y="131.22" width="4.7" height="4.7" rx="1.6"/><rect x="315.05" y="131.22" width="4.7" height="4.7" rx="1.6"/><rect x="322.12" y="131.22" width="4.7" height="4.7" rx="1.6"/><rect x="329.19" y="131.22" width="4.7" height="4.7" rx="1.6"/><rect x="336.26" y="131.22" width="4.7" height="4.7" rx="1.6"/><rect x="343.33" y="131.22" width="4.7" height="4.7" rx="1.6"/><rect x="350.40" y="131.22" width="4.7" height="4.7" rx="1.6"/><rect x="357.47" y="131.22" width="4.7" height="4.7" rx="1.6"/><rect x="364.54" y="131.22" width="4.7" height="4.7" rx="1.6"/><rect x="371.61" y="131.22" width="4.7" height="4.7" rx="1.6"/><rect x="378.68" y="131.22" width="4.7" height="4.7" rx="1.6"/><rect x="385.75" y="131.22" width="4.7" height="4.7" rx="1.6"/><rect x="392.82" y="131.22" width="4.7" height="4.7" rx="1.6"/><rect x="399.89" y="131.22" width="4.7" height="4.7" rx="1.6"/><rect x="406.96" y="131.22" width="4.7" height="4.7" rx="1.6"/><rect x="414.03" y="131.22" width="4.7" height="4.7" rx="1.6"/><rect x="421.10" y="131.22" width="4.7" height="4.7" rx="1.6"/><rect x="428.17" y="131.22" width="4.7" height="4.7" rx="1.6"/><rect x="435.24" y="131.22" width="4.7" height="4.7" rx="1.6"/><rect x="442.31" y="131.22" width="4.7" height="4.7" rx="1.6"/><rect x="449.38" y="131.22" width="4.7" height="4.7" rx="1.6"/><rect x="456.45" y="131.22" width="4.7" height="4.7" rx="1.6"/><rect x="463.52" y="131.22" width="4.7" height="4.7" rx="1.6"/><rect x="541.29" y="131.22" width="4.7" height="4.7" rx="1.6"/><rect x="548.36" y="131.22" width="4.7" height="4.7" rx="1.6"/><rect x="555.43" y="131.22" width="4.7" height="4.7" rx="1.6"/><rect x="562.50" y="131.22" width="4.7" height="4.7" rx="1.6"/><rect x="569.57" y="131.22" width="4.7" height="4.7" rx="1.6"/><rect x="576.64" y="131.22" width="4.7" height="4.7" rx="1.6"/><rect x="583.71" y="131.22" width="4.7" height="4.7" rx="1.6"/><rect x="590.78" y="131.22" width="4.7" height="4.7" rx="1.6"/><rect x="597.85" y="131.22" width="4.7" height="4.7" rx="1.6"/><rect x="604.92" y="131.22" width="4.7" height="4.7" rx="1.6"/><rect x="173.65" y="138.31" width="4.7" height="4.7" rx="1.6"/><rect x="180.72" y="138.31" width="4.7" height="4.7" rx="1.6"/><rect x="187.79" y="138.31" width="4.7" height="4.7" rx="1.6"/><rect x="194.86" y="138.31" width="4.7" height="4.7" rx="1.6"/><rect x="201.93" y="138.31" width="4.7" height="4.7" rx="1.6"/><rect x="209.00" y="138.31" width="4.7" height="4.7" rx="1.6"/><rect x="216.07" y="138.31" width="4.7" height="4.7" rx="1.6"/><rect x="223.14" y="138.31" width="4.7" height="4.7" rx="1.6"/><rect x="230.21" y="138.31" width="4.7" height="4.7" rx="1.6"/><rect x="237.28" y="138.31" width="4.7" height="4.7" rx="1.6"/><rect x="244.35" y="138.31" width="4.7" height="4.7" rx="1.6"/><rect x="251.42" y="138.31" width="4.7" height="4.7" rx="1.6"/><rect x="258.49" y="138.31" width="4.7" height="4.7" rx="1.6"/><rect x="265.56" y="138.31" width="4.7" height="4.7" rx="1.6"/><rect x="272.63" y="138.31" width="4.7" height="4.7" rx="1.6"/><rect x="279.70" y="138.31" width="4.7" height="4.7" rx="1.6"/><rect x="286.77" y="138.31" width="4.7" height="4.7" rx="1.6"/><rect x="293.84" y="138.31" width="4.7" height="4.7" rx="1.6"/><rect x="300.91" y="138.31" width="4.7" height="4.7" rx="1.6"/><rect x="307.98" y="138.31" width="4.7" height="4.7" rx="1.6"/><rect x="315.05" y="138.31" width="4.7" height="4.7" rx="1.6"/><rect x="322.12" y="138.31" width="4.7" height="4.7" rx="1.6"/><rect x="329.19" y="138.31" width="4.7" height="4.7" rx="1.6"/><rect x="336.26" y="138.31" width="4.7" height="4.7" rx="1.6"/><rect x="343.33" y="138.31" width="4.7" height="4.7" rx="1.6"/><rect x="350.40" y="138.31" width="4.7" height="4.7" rx="1.6"/><rect x="357.47" y="138.31" width="4.7" height="4.7" rx="1.6"/><rect x="364.54" y="138.31" width="4.7" height="4.7" rx="1.6"/><rect x="371.61" y="138.31" width="4.7" height="4.7" rx="1.6"/><rect x="378.68" y="138.31" width="4.7" height="4.7" rx="1.6"/><rect x="385.75" y="138.31" width="4.7" height="4.7" rx="1.6"/><rect x="392.82" y="138.31" width="4.7" height="4.7" rx="1.6"/><rect x="399.89" y="138.31" width="4.7" height="4.7" rx="1.6"/><rect x="406.96" y="138.31" width="4.7" height="4.7" rx="1.6"/><rect x="414.03" y="138.31" width="4.7" height="4.7" rx="1.6"/><rect x="421.10" y="138.31" width="4.7" height="4.7" rx="1.6"/><rect x="428.17" y="138.31" width="4.7" height="4.7" rx="1.6"/><rect x="435.24" y="138.31" width="4.7" height="4.7" rx="1.6"/><rect x="442.31" y="138.31" width="4.7" height="4.7" rx="1.6"/><rect x="449.38" y="138.31" width="4.7" height="4.7" rx="1.6"/><rect x="456.45" y="138.31" width="4.7" height="4.7" rx="1.6"/><rect x="463.52" y="138.31" width="4.7" height="4.7" rx="1.6"/><rect x="541.29" y="138.31" width="4.7" height="4.7" rx="1.6"/><rect x="548.36" y="138.31" width="4.7" height="4.7" rx="1.6"/><rect x="555.43" y="138.31" width="4.7" height="4.7" rx="1.6"/><rect x="562.50" y="138.31" width="4.7" height="4.7" rx="1.6"/><rect x="569.57" y="138.31" width="4.7" height="4.7" rx="1.6"/><rect x="576.64" y="138.31" width="4.7" height="4.7" rx="1.6"/><rect x="583.71" y="138.31" width="4.7" height="4.7" rx="1.6"/><rect x="590.78" y="138.31" width="4.7" height="4.7" rx="1.6"/><rect x="597.85" y="138.31" width="4.7" height="4.7" rx="1.6"/><rect x="604.92" y="138.31" width="4.7" height="4.7" rx="1.6"/><rect x="173.65" y="145.40" width="4.7" height="4.7" rx="1.6"/><rect x="180.72" y="145.40" width="4.7" height="4.7" rx="1.6"/><rect x="187.79" y="145.40" width="4.7" height="4.7" rx="1.6"/><rect x="194.86" y="145.40" width="4.7" height="4.7" rx="1.6"/><rect x="357.47" y="145.40" width="4.7" height="4.7" rx="1.6"/><rect x="364.54" y="145.40" width="4.7" height="4.7" rx="1.6"/><rect x="371.61" y="145.40" width="4.7" height="4.7" rx="1.6"/><rect x="378.68" y="145.40" width="4.7" height="4.7" rx="1.6"/><rect x="385.75" y="145.40" width="4.7" height="4.7" rx="1.6"/><rect x="392.82" y="145.40" width="4.7" height="4.7" rx="1.6"/><rect x="399.89" y="145.40" width="4.7" height="4.7" rx="1.6"/><rect x="406.96" y="145.40" width="4.7" height="4.7" rx="1.6"/><rect x="414.03" y="145.40" width="4.7" height="4.7" rx="1.6"/><rect x="421.10" y="145.40" width="4.7" height="4.7" rx="1.6"/><rect x="590.78" y="145.40" width="4.7" height="4.7" rx="1.6"/><rect x="597.85" y="145.40" width="4.7" height="4.7" rx="1.6"/><rect x="604.92" y="145.40" width="4.7" height="4.7" rx="1.6"/><rect x="173.65" y="152.49" width="4.7" height="4.7" rx="1.6"/><rect x="180.72" y="152.49" width="4.7" height="4.7" rx="1.6"/><rect x="187.79" y="152.49" width="4.7" height="4.7" rx="1.6"/><rect x="194.86" y="152.49" width="4.7" height="4.7" rx="1.6"/><rect x="357.47" y="152.49" width="4.7" height="4.7" rx="1.6"/><rect x="364.54" y="152.49" width="4.7" height="4.7" rx="1.6"/><rect x="371.61" y="152.49" width="4.7" height="4.7" rx="1.6"/><rect x="378.68" y="152.49" width="4.7" height="4.7" rx="1.6"/><rect x="385.75" y="152.49" width="4.7" height="4.7" rx="1.6"/><rect x="392.82" y="152.49" width="4.7" height="4.7" rx="1.6"/><rect x="399.89" y="152.49" width="4.7" height="4.7" rx="1.6"/><rect x="406.96" y="152.49" width="4.7" height="4.7" rx="1.6"/><rect x="414.03" y="152.49" width="4.7" height="4.7" rx="1.6"/><rect x="421.10" y="152.49" width="4.7" height="4.7" rx="1.6"/><rect x="590.78" y="152.49" width="4.7" height="4.7" rx="1.6"/><rect x="597.85" y="152.49" width="4.7" height="4.7" rx="1.6"/><rect x="604.92" y="152.49" width="4.7" height="4.7" rx="1.6"/><rect x="173.65" y="159.58" width="4.7" height="4.7" rx="1.6"/><rect x="180.72" y="159.58" width="4.7" height="4.7" rx="1.6"/><rect x="187.79" y="159.58" width="4.7" height="4.7" rx="1.6"/><rect x="194.86" y="159.58" width="4.7" height="4.7" rx="1.6"/><rect x="357.47" y="159.58" width="4.7" height="4.7" rx="1.6"/><rect x="364.54" y="159.58" width="4.7" height="4.7" rx="1.6"/><rect x="371.61" y="159.58" width="4.7" height="4.7" rx="1.6"/><rect x="378.68" y="159.58" width="4.7" height="4.7" rx="1.6"/><rect x="385.75" y="159.58" width="4.7" height="4.7" rx="1.6"/><rect x="392.82" y="159.58" width="4.7" height="4.7" rx="1.6"/><rect x="399.89" y="159.58" width="4.7" height="4.7" rx="1.6"/><rect x="406.96" y="159.58" width="4.7" height="4.7" rx="1.6"/><rect x="414.03" y="159.58" width="4.7" height="4.7" rx="1.6"/><rect x="421.10" y="159.58" width="4.7" height="4.7" rx="1.6"/><rect x="590.78" y="159.58" width="4.7" height="4.7" rx="1.6"/><rect x="597.85" y="159.58" width="4.7" height="4.7" rx="1.6"/><rect x="604.92" y="159.58" width="4.7" height="4.7" rx="1.6"/><rect x="173.65" y="166.67" width="4.7" height="4.7" rx="1.6"/><rect x="180.72" y="166.67" width="4.7" height="4.7" rx="1.6"/><rect x="187.79" y="166.67" width="4.7" height="4.7" rx="1.6"/><rect x="194.86" y="166.67" width="4.7" height="4.7" rx="1.6"/><rect x="357.47" y="166.67" width="4.7" height="4.7" rx="1.6"/><rect x="364.54" y="166.67" width="4.7" height="4.7" rx="1.6"/><rect x="371.61" y="166.67" width="4.7" height="4.7" rx="1.6"/><rect x="378.68" y="166.67" width="4.7" height="4.7" rx="1.6"/><rect x="385.75" y="166.67" width="4.7" height="4.7" rx="1.6"/><rect x="392.82" y="166.67" width="4.7" height="4.7" rx="1.6"/><rect x="399.89" y="166.67" width="4.7" height="4.7" rx="1.6"/><rect x="406.96" y="166.67" width="4.7" height="4.7" rx="1.6"/><rect x="414.03" y="166.67" width="4.7" height="4.7" rx="1.6"/><rect x="421.10" y="166.67" width="4.7" height="4.7" rx="1.6"/><rect x="590.78" y="166.67" width="4.7" height="4.7" rx="1.6"/><rect x="597.85" y="166.67" width="4.7" height="4.7" rx="1.6"/><rect x="604.92" y="166.67" width="4.7" height="4.7" rx="1.6"/><rect x="173.65" y="173.76" width="4.7" height="4.7" rx="1.6"/><rect x="180.72" y="173.76" width="4.7" height="4.7" rx="1.6"/><rect x="187.79" y="173.76" width="4.7" height="4.7" rx="1.6"/><rect x="194.86" y="173.76" width="4.7" height="4.7" rx="1.6"/><rect x="357.47" y="173.76" width="4.7" height="4.7" rx="1.6"/><rect x="364.54" y="173.76" width="4.7" height="4.7" rx="1.6"/><rect x="371.61" y="173.76" width="4.7" height="4.7" rx="1.6"/><rect x="378.68" y="173.76" width="4.7" height="4.7" rx="1.6"/><rect x="385.75" y="173.76" width="4.7" height="4.7" rx="1.6"/><rect x="392.82" y="173.76" width="4.7" height="4.7" rx="1.6"/><rect x="399.89" y="173.76" width="4.7" height="4.7" rx="1.6"/><rect x="406.96" y="173.76" width="4.7" height="4.7" rx="1.6"/><rect x="414.03" y="173.76" width="4.7" height="4.7" rx="1.6"/><rect x="421.10" y="173.76" width="4.7" height="4.7" rx="1.6"/><rect x="590.78" y="173.76" width="4.7" height="4.7" rx="1.6"/><rect x="597.85" y="173.76" width="4.7" height="4.7" rx="1.6"/><rect x="604.92" y="173.76" width="4.7" height="4.7" rx="1.6"/><rect x="173.65" y="180.85" width="4.7" height="4.7" rx="1.6"/><rect x="180.72" y="180.85" width="4.7" height="4.7" rx="1.6"/><rect x="187.79" y="180.85" width="4.7" height="4.7" rx="1.6"/><rect x="194.86" y="180.85" width="4.7" height="4.7" rx="1.6"/><rect x="357.47" y="180.85" width="4.7" height="4.7" rx="1.6"/><rect x="364.54" y="180.85" width="4.7" height="4.7" rx="1.6"/><rect x="371.61" y="180.85" width="4.7" height="4.7" rx="1.6"/><rect x="378.68" y="180.85" width="4.7" height="4.7" rx="1.6"/><rect x="385.75" y="180.85" width="4.7" height="4.7" rx="1.6"/><rect x="392.82" y="180.85" width="4.7" height="4.7" rx="1.6"/><rect x="399.89" y="180.85" width="4.7" height="4.7" rx="1.6"/><rect x="406.96" y="180.85" width="4.7" height="4.7" rx="1.6"/><rect x="414.03" y="180.85" width="4.7" height="4.7" rx="1.6"/><rect x="421.10" y="180.85" width="4.7" height="4.7" rx="1.6"/><rect x="590.78" y="180.85" width="4.7" height="4.7" rx="1.6"/><rect x="597.85" y="180.85" width="4.7" height="4.7" rx="1.6"/><rect x="604.92" y="180.85" width="4.7" height="4.7" rx="1.6"/><rect x="173.65" y="187.94" width="4.7" height="4.7" rx="1.6"/><rect x="180.72" y="187.94" width="4.7" height="4.7" rx="1.6"/><rect x="187.79" y="187.94" width="4.7" height="4.7" rx="1.6"/><rect x="194.86" y="187.94" width="4.7" height="4.7" rx="1.6"/><rect x="357.47" y="187.94" width="4.7" height="4.7" rx="1.6"/><rect x="364.54" y="187.94" width="4.7" height="4.7" rx="1.6"/><rect x="371.61" y="187.94" width="4.7" height="4.7" rx="1.6"/><rect x="378.68" y="187.94" width="4.7" height="4.7" rx="1.6"/><rect x="385.75" y="187.94" width="4.7" height="4.7" rx="1.6"/><rect x="392.82" y="187.94" width="4.7" height="4.7" rx="1.6"/><rect x="399.89" y="187.94" width="4.7" height="4.7" rx="1.6"/><rect x="406.96" y="187.94" width="4.7" height="4.7" rx="1.6"/><rect x="414.03" y="187.94" width="4.7" height="4.7" rx="1.6"/><rect x="421.10" y="187.94" width="4.7" height="4.7" rx="1.6"/><rect x="583.71" y="187.94" width="4.7" height="4.7" rx="1.6"/><rect x="590.78" y="187.94" width="4.7" height="4.7" rx="1.6"/><rect x="597.85" y="187.94" width="4.7" height="4.7" rx="1.6"/><rect x="604.92" y="187.94" width="4.7" height="4.7" rx="1.6"/><rect x="173.65" y="195.03" width="4.7" height="4.7" rx="1.6"/><rect x="180.72" y="195.03" width="4.7" height="4.7" rx="1.6"/><rect x="187.79" y="195.03" width="4.7" height="4.7" rx="1.6"/><rect x="194.86" y="195.03" width="4.7" height="4.7" rx="1.6"/><rect x="201.93" y="195.03" width="4.7" height="4.7" rx="1.6"/><rect x="350.40" y="195.03" width="4.7" height="4.7" rx="1.6"/><rect x="357.47" y="195.03" width="4.7" height="4.7" rx="1.6"/><rect x="364.54" y="195.03" width="4.7" height="4.7" rx="1.6"/><rect x="371.61" y="195.03" width="4.7" height="4.7" rx="1.6"/><rect x="378.68" y="195.03" width="4.7" height="4.7" rx="1.6"/><rect x="385.75" y="195.03" width="4.7" height="4.7" rx="1.6"/><rect x="392.82" y="195.03" width="4.7" height="4.7" rx="1.6"/><rect x="399.89" y="195.03" width="4.7" height="4.7" rx="1.6"/><rect x="406.96" y="195.03" width="4.7" height="4.7" rx="1.6"/><rect x="414.03" y="195.03" width="4.7" height="4.7" rx="1.6"/><rect x="421.10" y="195.03" width="4.7" height="4.7" rx="1.6"/><rect x="428.17" y="195.03" width="4.7" height="4.7" rx="1.6"/><rect x="576.64" y="195.03" width="4.7" height="4.7" rx="1.6"/><rect x="583.71" y="195.03" width="4.7" height="4.7" rx="1.6"/><rect x="590.78" y="195.03" width="4.7" height="4.7" rx="1.6"/><rect x="597.85" y="195.03" width="4.7" height="4.7" rx="1.6"/><rect x="604.92" y="195.03" width="4.7" height="4.7" rx="1.6"/><rect x="173.65" y="202.12" width="4.7" height="4.7" rx="1.6"/><rect x="180.72" y="202.12" width="4.7" height="4.7" rx="1.6"/><rect x="187.79" y="202.12" width="4.7" height="4.7" rx="1.6"/><rect x="194.86" y="202.12" width="4.7" height="4.7" rx="1.6"/><rect x="201.93" y="202.12" width="4.7" height="4.7" rx="1.6"/><rect x="209.00" y="202.12" width="4.7" height="4.7" rx="1.6"/><rect x="343.33" y="202.12" width="4.7" height="4.7" rx="1.6"/><rect x="350.40" y="202.12" width="4.7" height="4.7" rx="1.6"/><rect x="357.47" y="202.12" width="4.7" height="4.7" rx="1.6"/><rect x="364.54" y="202.12" width="4.7" height="4.7" rx="1.6"/><rect x="371.61" y="202.12" width="4.7" height="4.7" rx="1.6"/><rect x="378.68" y="202.12" width="4.7" height="4.7" rx="1.6"/><rect x="385.75" y="202.12" width="4.7" height="4.7" rx="1.6"/><rect x="392.82" y="202.12" width="4.7" height="4.7" rx="1.6"/><rect x="399.89" y="202.12" width="4.7" height="4.7" rx="1.6"/><rect x="406.96" y="202.12" width="4.7" height="4.7" rx="1.6"/><rect x="414.03" y="202.12" width="4.7" height="4.7" rx="1.6"/><rect x="421.10" y="202.12" width="4.7" height="4.7" rx="1.6"/><rect x="428.17" y="202.12" width="4.7" height="4.7" rx="1.6"/><rect x="435.24" y="202.12" width="4.7" height="4.7" rx="1.6"/><rect x="569.57" y="202.12" width="4.7" height="4.7" rx="1.6"/><rect x="576.64" y="202.12" width="4.7" height="4.7" rx="1.6"/><rect x="583.71" y="202.12" width="4.7" height="4.7" rx="1.6"/><rect x="590.78" y="202.12" width="4.7" height="4.7" rx="1.6"/><rect x="597.85" y="202.12" width="4.7" height="4.7" rx="1.6"/><rect x="604.92" y="202.12" width="4.7" height="4.7" rx="1.6"/><rect x="173.65" y="209.21" width="4.7" height="4.7" rx="1.6"/><rect x="180.72" y="209.21" width="4.7" height="4.7" rx="1.6"/><rect x="187.79" y="209.21" width="4.7" height="4.7" rx="1.6"/><rect x="194.86" y="209.21" width="4.7" height="4.7" rx="1.6"/><rect x="201.93" y="209.21" width="4.7" height="4.7" rx="1.6"/><rect x="209.00" y="209.21" width="4.7" height="4.7" rx="1.6"/><rect x="216.07" y="209.21" width="4.7" height="4.7" rx="1.6"/><rect x="223.14" y="209.21" width="4.7" height="4.7" rx="1.6"/><rect x="230.21" y="209.21" width="4.7" height="4.7" rx="1.6"/><rect x="237.28" y="209.21" width="4.7" height="4.7" rx="1.6"/><rect x="244.35" y="209.21" width="4.7" height="4.7" rx="1.6"/><rect x="251.42" y="209.21" width="4.7" height="4.7" rx="1.6"/><rect x="258.49" y="209.21" width="4.7" height="4.7" rx="1.6"/><rect x="265.56" y="209.21" width="4.7" height="4.7" rx="1.6"/><rect x="272.63" y="209.21" width="4.7" height="4.7" rx="1.6"/><rect x="279.70" y="209.21" width="4.7" height="4.7" rx="1.6"/><rect x="286.77" y="209.21" width="4.7" height="4.7" rx="1.6"/><rect x="293.84" y="209.21" width="4.7" height="4.7" rx="1.6"/><rect x="300.91" y="209.21" width="4.7" height="4.7" rx="1.6"/><rect x="307.98" y="209.21" width="4.7" height="4.7" rx="1.6"/><rect x="315.05" y="209.21" width="4.7" height="4.7" rx="1.6"/><rect x="322.12" y="209.21" width="4.7" height="4.7" rx="1.6"/><rect x="329.19" y="209.21" width="4.7" height="4.7" rx="1.6"/><rect x="336.26" y="209.21" width="4.7" height="4.7" rx="1.6"/><rect x="343.33" y="209.21" width="4.7" height="4.7" rx="1.6"/><rect x="350.40" y="209.21" width="4.7" height="4.7" rx="1.6"/><rect x="357.47" y="209.21" width="4.7" height="4.7" rx="1.6"/><rect x="364.54" y="209.21" width="4.7" height="4.7" rx="1.6"/><rect x="371.61" y="209.21" width="4.7" height="4.7" rx="1.6"/><rect x="378.68" y="209.21" width="4.7" height="4.7" rx="1.6"/><rect x="385.75" y="209.21" width="4.7" height="4.7" rx="1.6"/><rect x="392.82" y="209.21" width="4.7" height="4.7" rx="1.6"/><rect x="399.89" y="209.21" width="4.7" height="4.7" rx="1.6"/><rect x="406.96" y="209.21" width="4.7" height="4.7" rx="1.6"/><rect x="414.03" y="209.21" width="4.7" height="4.7" rx="1.6"/><rect x="421.10" y="209.21" width="4.7" height="4.7" rx="1.6"/><rect x="428.17" y="209.21" width="4.7" height="4.7" rx="1.6"/><rect x="435.24" y="209.21" width="4.7" height="4.7" rx="1.6"/><rect x="442.31" y="209.21" width="4.7" height="4.7" rx="1.6"/><rect x="449.38" y="209.21" width="4.7" height="4.7" rx="1.6"/><rect x="456.45" y="209.21" width="4.7" height="4.7" rx="1.6"/><rect x="463.52" y="209.21" width="4.7" height="4.7" rx="1.6"/><rect x="470.59" y="209.21" width="4.7" height="4.7" rx="1.6"/><rect x="477.66" y="209.21" width="4.7" height="4.7" rx="1.6"/><rect x="484.73" y="209.21" width="4.7" height="4.7" rx="1.6"/><rect x="491.80" y="209.21" width="4.7" height="4.7" rx="1.6"/><rect x="498.87" y="209.21" width="4.7" height="4.7" rx="1.6"/><rect x="505.94" y="209.21" width="4.7" height="4.7" rx="1.6"/><rect x="513.01" y="209.21" width="4.7" height="4.7" rx="1.6"/><rect x="520.08" y="209.21" width="4.7" height="4.7" rx="1.6"/><rect x="527.15" y="209.21" width="4.7" height="4.7" rx="1.6"/><rect x="534.22" y="209.21" width="4.7" height="4.7" rx="1.6"/><rect x="541.29" y="209.21" width="4.7" height="4.7" rx="1.6"/><rect x="548.36" y="209.21" width="4.7" height="4.7" rx="1.6"/><rect x="555.43" y="209.21" width="4.7" height="4.7" rx="1.6"/><rect x="562.50" y="209.21" width="4.7" height="4.7" rx="1.6"/><rect x="569.57" y="209.21" width="4.7" height="4.7" rx="1.6"/><rect x="576.64" y="209.21" width="4.7" height="4.7" rx="1.6"/><rect x="583.71" y="209.21" width="4.7" height="4.7" rx="1.6"/><rect x="590.78" y="209.21" width="4.7" height="4.7" rx="1.6"/><rect x="597.85" y="209.21" width="4.7" height="4.7" rx="1.6"/><rect x="604.92" y="209.21" width="4.7" height="4.7" rx="1.6"/><rect x="173.65" y="216.30" width="4.7" height="4.7" rx="1.6"/><rect x="180.72" y="216.30" width="4.7" height="4.7" rx="1.6"/><rect x="187.79" y="216.30" width="4.7" height="4.7" rx="1.6"/><rect x="194.86" y="216.30" width="4.7" height="4.7" rx="1.6"/><rect x="201.93" y="216.30" width="4.7" height="4.7" rx="1.6"/><rect x="209.00" y="216.30" width="4.7" height="4.7" rx="1.6"/><rect x="216.07" y="216.30" width="4.7" height="4.7" rx="1.6"/><rect x="223.14" y="216.30" width="4.7" height="4.7" rx="1.6"/><rect x="230.21" y="216.30" width="4.7" height="4.7" rx="1.6"/><rect x="237.28" y="216.30" width="4.7" height="4.7" rx="1.6"/><rect x="244.35" y="216.30" width="4.7" height="4.7" rx="1.6"/><rect x="251.42" y="216.30" width="4.7" height="4.7" rx="1.6"/><rect x="258.49" y="216.30" width="4.7" height="4.7" rx="1.6"/><rect x="265.56" y="216.30" width="4.7" height="4.7" rx="1.6"/><rect x="272.63" y="216.30" width="4.7" height="4.7" rx="1.6"/><rect x="279.70" y="216.30" width="4.7" height="4.7" rx="1.6"/><rect x="286.77" y="216.30" width="4.7" height="4.7" rx="1.6"/><rect x="293.84" y="216.30" width="4.7" height="4.7" rx="1.6"/><rect x="300.91" y="216.30" width="4.7" height="4.7" rx="1.6"/><rect x="307.98" y="216.30" width="4.7" height="4.7" rx="1.6"/><rect x="315.05" y="216.30" width="4.7" height="4.7" rx="1.6"/><rect x="322.12" y="216.30" width="4.7" height="4.7" rx="1.6"/><rect x="329.19" y="216.30" width="4.7" height="4.7" rx="1.6"/><rect x="336.26" y="216.30" width="4.7" height="4.7" rx="1.6"/><rect x="343.33" y="216.30" width="4.7" height="4.7" rx="1.6"/><rect x="350.40" y="216.30" width="4.7" height="4.7" rx="1.6"/><rect x="357.47" y="216.30" width="4.7" height="4.7" rx="1.6"/><rect x="364.54" y="216.30" width="4.7" height="4.7" rx="1.6"/><rect x="371.61" y="216.30" width="4.7" height="4.7" rx="1.6"/><rect x="378.68" y="216.30" width="4.7" height="4.7" rx="1.6"/><rect x="385.75" y="216.30" width="4.7" height="4.7" rx="1.6"/><rect x="392.82" y="216.30" width="4.7" height="4.7" rx="1.6"/><rect x="399.89" y="216.30" width="4.7" height="4.7" rx="1.6"/><rect x="406.96" y="216.30" width="4.7" height="4.7" rx="1.6"/><rect x="414.03" y="216.30" width="4.7" height="4.7" rx="1.6"/><rect x="421.10" y="216.30" width="4.7" height="4.7" rx="1.6"/><rect x="428.17" y="216.30" width="4.7" height="4.7" rx="1.6"/><rect x="435.24" y="216.30" width="4.7" height="4.7" rx="1.6"/><rect x="442.31" y="216.30" width="4.7" height="4.7" rx="1.6"/><rect x="449.38" y="216.30" width="4.7" height="4.7" rx="1.6"/><rect x="456.45" y="216.30" width="4.7" height="4.7" rx="1.6"/><rect x="463.52" y="216.30" width="4.7" height="4.7" rx="1.6"/><rect x="470.59" y="216.30" width="4.7" height="4.7" rx="1.6"/><rect x="477.66" y="216.30" width="4.7" height="4.7" rx="1.6"/><rect x="484.73" y="216.30" width="4.7" height="4.7" rx="1.6"/><rect x="491.80" y="216.30" width="4.7" height="4.7" rx="1.6"/><rect x="498.87" y="216.30" width="4.7" height="4.7" rx="1.6"/><rect x="505.94" y="216.30" width="4.7" height="4.7" rx="1.6"/><rect x="513.01" y="216.30" width="4.7" height="4.7" rx="1.6"/><rect x="520.08" y="216.30" width="4.7" height="4.7" rx="1.6"/><rect x="527.15" y="216.30" width="4.7" height="4.7" rx="1.6"/><rect x="534.22" y="216.30" width="4.7" height="4.7" rx="1.6"/><rect x="541.29" y="216.30" width="4.7" height="4.7" rx="1.6"/><rect x="548.36" y="216.30" width="4.7" height="4.7" rx="1.6"/><rect x="555.43" y="216.30" width="4.7" height="4.7" rx="1.6"/><rect x="562.50" y="216.30" width="4.7" height="4.7" rx="1.6"/><rect x="569.57" y="216.30" width="4.7" height="4.7" rx="1.6"/><rect x="576.64" y="216.30" width="4.7" height="4.7" rx="1.6"/><rect x="583.71" y="216.30" width="4.7" height="4.7" rx="1.6"/><rect x="590.78" y="216.30" width="4.7" height="4.7" rx="1.6"/><rect x="597.85" y="216.30" width="4.7" height="4.7" rx="1.6"/><rect x="604.92" y="216.30" width="4.7" height="4.7" rx="1.6"/><rect x="173.65" y="223.39" width="4.7" height="4.7" rx="1.6"/><rect x="180.72" y="223.39" width="4.7" height="4.7" rx="1.6"/><rect x="187.79" y="223.39" width="4.7" height="4.7" rx="1.6"/><rect x="194.86" y="223.39" width="4.7" height="4.7" rx="1.6"/><rect x="201.93" y="223.39" width="4.7" height="4.7" rx="1.6"/><rect x="209.00" y="223.39" width="4.7" height="4.7" rx="1.6"/><rect x="216.07" y="223.39" width="4.7" height="4.7" rx="1.6"/><rect x="223.14" y="223.39" width="4.7" height="4.7" rx="1.6"/><rect x="230.21" y="223.39" width="4.7" height="4.7" rx="1.6"/><rect x="237.28" y="223.39" width="4.7" height="4.7" rx="1.6"/><rect x="244.35" y="223.39" width="4.7" height="4.7" rx="1.6"/><rect x="251.42" y="223.39" width="4.7" height="4.7" rx="1.6"/><rect x="258.49" y="223.39" width="4.7" height="4.7" rx="1.6"/><rect x="265.56" y="223.39" width="4.7" height="4.7" rx="1.6"/><rect x="272.63" y="223.39" width="4.7" height="4.7" rx="1.6"/><rect x="279.70" y="223.39" width="4.7" height="4.7" rx="1.6"/><rect x="286.77" y="223.39" width="4.7" height="4.7" rx="1.6"/><rect x="293.84" y="223.39" width="4.7" height="4.7" rx="1.6"/><rect x="300.91" y="223.39" width="4.7" height="4.7" rx="1.6"/><rect x="307.98" y="223.39" width="4.7" height="4.7" rx="1.6"/><rect x="315.05" y="223.39" width="4.7" height="4.7" rx="1.6"/><rect x="322.12" y="223.39" width="4.7" height="4.7" rx="1.6"/><rect x="329.19" y="223.39" width="4.7" height="4.7" rx="1.6"/><rect x="336.26" y="223.39" width="4.7" height="4.7" rx="1.6"/><rect x="343.33" y="223.39" width="4.7" height="4.7" rx="1.6"/><rect x="350.40" y="223.39" width="4.7" height="4.7" rx="1.6"/><rect x="357.47" y="223.39" width="4.7" height="4.7" rx="1.6"/><rect x="364.54" y="223.39" width="4.7" height="4.7" rx="1.6"/><rect x="371.61" y="223.39" width="4.7" height="4.7" rx="1.6"/><rect x="378.68" y="223.39" width="4.7" height="4.7" rx="1.6"/><rect x="385.75" y="223.39" width="4.7" height="4.7" rx="1.6"/><rect x="392.82" y="223.39" width="4.7" height="4.7" rx="1.6"/><rect x="399.89" y="223.39" width="4.7" height="4.7" rx="1.6"/><rect x="406.96" y="223.39" width="4.7" height="4.7" rx="1.6"/><rect x="414.03" y="223.39" width="4.7" height="4.7" rx="1.6"/><rect x="421.10" y="223.39" width="4.7" height="4.7" rx="1.6"/><rect x="428.17" y="223.39" width="4.7" height="4.7" rx="1.6"/><rect x="435.24" y="223.39" width="4.7" height="4.7" rx="1.6"/><rect x="442.31" y="223.39" width="4.7" height="4.7" rx="1.6"/><rect x="449.38" y="223.39" width="4.7" height="4.7" rx="1.6"/><rect x="456.45" y="223.39" width="4.7" height="4.7" rx="1.6"/><rect x="463.52" y="223.39" width="4.7" height="4.7" rx="1.6"/><rect x="470.59" y="223.39" width="4.7" height="4.7" rx="1.6"/><rect x="477.66" y="223.39" width="4.7" height="4.7" rx="1.6"/><rect x="484.73" y="223.39" width="4.7" height="4.7" rx="1.6"/><rect x="491.80" y="223.39" width="4.7" height="4.7" rx="1.6"/><rect x="498.87" y="223.39" width="4.7" height="4.7" rx="1.6"/><rect x="505.94" y="223.39" width="4.7" height="4.7" rx="1.6"/><rect x="513.01" y="223.39" width="4.7" height="4.7" rx="1.6"/><rect x="520.08" y="223.39" width="4.7" height="4.7" rx="1.6"/><rect x="527.15" y="223.39" width="4.7" height="4.7" rx="1.6"/><rect x="534.22" y="223.39" width="4.7" height="4.7" rx="1.6"/><rect x="541.29" y="223.39" width="4.7" height="4.7" rx="1.6"/><rect x="548.36" y="223.39" width="4.7" height="4.7" rx="1.6"/><rect x="555.43" y="223.39" width="4.7" height="4.7" rx="1.6"/><rect x="562.50" y="223.39" width="4.7" height="4.7" rx="1.6"/><rect x="569.57" y="223.39" width="4.7" height="4.7" rx="1.6"/><rect x="576.64" y="223.39" width="4.7" height="4.7" rx="1.6"/><rect x="583.71" y="223.39" width="4.7" height="4.7" rx="1.6"/><rect x="590.78" y="223.39" width="4.7" height="4.7" rx="1.6"/><rect x="597.85" y="223.39" width="4.7" height="4.7" rx="1.6"/><rect x="604.92" y="223.39" width="4.7" height="4.7" rx="1.6"/></g>
<circle cx="280.3" cy="82.2" r="28" fill="#fcfcfc" stroke="#d2d2d2" stroke-width="1.1"/><path d="M306.8,91.2 A28,28 0 0 1 286.3,109.5" fill="none" stroke="#b8b8b8" stroke-width="2"/><path d="M261.5,98.4 Q269.5,93.9 276.5,98.9 Q284.5,94.4 294.5,95.4 Q291.5,107.4 278.5,108.9 Q266.5,108.4 261.5,98.4 Z" fill="#cdcdcd"/><path d="M268.5,104.4 Q277.5,100.9 289.5,101.4 Q284.5,107.9 276.5,107.9 Z" fill="#a6a6a6"/><path d="M289.5,72.4 Q295.5,82.4 290.5,94.4" fill="none" stroke="#c4c4c4" stroke-width="2.6"/><path d="M265.5,70.4 Q275.5,74.4 285.5,70.4 Q289.5,73.4 288.5,77.4 Q285.5,83.4 288.5,90.4 Q289.5,94.4 285.5,96.4 Q275.5,91.4 265.5,96.4 Q261.5,94.4 262.5,90.4 Q265.5,83.4 262.5,77.4 Q261.5,73.4 265.5,70.4 Z" fill="#f8f8f8" stroke="#bababa" stroke-width="2.4"/><path d="M268.5,76.4 L278.5,86.4" stroke="#808080" stroke-width="1.6"/><path d="M263.3,73.9 H269.7 M266.5,70.7 V77.10000000000001" stroke="#767676" stroke-width="2.2"/><circle cx="266.5" cy="73.9" r="2" fill="#666"/><path d="M281.3,73.4 H287.7 M284.5,70.2 V76.60000000000001" stroke="#767676" stroke-width="2.2"/><circle cx="284.5" cy="73.4" r="2" fill="#666"/><path d="M262.5,92.60000000000001 H268.9 M265.7,89.4 V95.80000000000001" stroke="#767676" stroke-width="2.2"/><circle cx="265.7" cy="92.60000000000001" r="2" fill="#666"/><path d="M282.1,93.4 H288.5 M285.3,90.2 V96.60000000000001" stroke="#767676" stroke-width="2.2"/><circle cx="285.3" cy="93.4" r="2" fill="#666"/>
<circle cx="504.2" cy="81.2" r="28" fill="#fcfcfc" stroke="#d2d2d2" stroke-width="1.1"/><path d="M530.7,90.2 A28,28 0 0 1 510.2,108.5" fill="none" stroke="#b8b8b8" stroke-width="2"/><path d="M489.9,98.4 Q497.9,93.9 504.9,98.9 Q512.9,94.4 522.9,95.4 Q519.9,107.4 506.9,108.9 Q494.9,108.4 489.9,98.4 Z" fill="#cdcdcd"/><path d="M496.9,104.4 Q505.9,100.9 517.9,101.4 Q512.9,107.9 504.9,107.9 Z" fill="#a6a6a6"/><path d="M517.9,72.4 Q523.9,82.4 518.9,94.4" fill="none" stroke="#c4c4c4" stroke-width="2.6"/><path d="M493.9,70.4 Q503.9,74.4 513.9,70.4 Q517.9,73.4 516.9,77.4 Q513.9,83.4 516.9,90.4 Q517.9,94.4 513.9,96.4 Q503.9,91.4 493.9,96.4 Q489.9,94.4 490.9,90.4 Q493.9,83.4 490.9,77.4 Q489.9,73.4 493.9,70.4 Z" fill="#f8f8f8" stroke="#bababa" stroke-width="2.4"/><path d="M496.9,76.4 L506.9,86.4" stroke="#808080" stroke-width="1.6"/><path d="M491.7,73.9 H498.09999999999997 M494.9,70.7 V77.10000000000001" stroke="#767676" stroke-width="2.2"/><circle cx="494.9" cy="73.9" r="2" fill="#666"/><path d="M509.7,73.4 H516.1 M512.9,70.2 V76.60000000000001" stroke="#767676" stroke-width="2.2"/><circle cx="512.9" cy="73.4" r="2" fill="#666"/><path d="M490.9,92.60000000000001 H497.29999999999995 M494.09999999999997,89.4 V95.80000000000001" stroke="#767676" stroke-width="2.2"/><circle cx="494.09999999999997" cy="92.60000000000001" r="2" fill="#666"/><path d="M510.49999999999994,93.4 H516.9 M513.6999999999999,90.2 V96.60000000000001" stroke="#767676" stroke-width="2.2"/><circle cx="513.6999999999999" cy="93.4" r="2" fill="#666"/>
<g fill="none" stroke="#111" stroke-linejoin="miter" stroke-miterlimit="3">
<path stroke-width="3.2" d="M215.55,90.5 V85.65 H225 Q228.95,85.65 228.95,89.5 V90 Q228.95,93.6 225,93.6 H219.5 Q215.55,93.6 215.55,97.5 V102.35 H230.4"/>
<path stroke-width="3.8" d="M557.5,89.5 L561,85.9 H564 V103.4"/>
<path stroke-width="3" d="M481.7,138.6 L486.2,123.3 H489.8 L494.3,138.6 M483.6,133.3 H492.4"/>
<path stroke-width="3" d="M500.4,138.6 V123.3 H508.5 Q511.8,123.3 511.8,126.5 V127 Q511.8,130.2 508.5,130.2 H500.4 M507.5,130.2 L512,138.6"/>
<path stroke-width="3" d="M530.6,127.2 V125 Q530.6,123.3 528.6,123.3 H521.5 Q517.4,123.3 517.4,127.3 V133.2 Q517.4,137.2 521.5,137.2 H528.6 Q530.6,137.2 530.6,135.2 V133.2"/>
</g>


<path d="M202.5,147.4 H356.7 V184.3 L340.5,203.5 H218.7 L202.5,184.3 Z" fill="#111"/><path d="M207.5,151.9 H351.7 V182.3 L337.7,198.5 H221.5 L207.5,182.3 Z" fill="#2a2a2a"/><rect x="227.5" y="148.6" width="104.19999999999999" height="2.2" fill="#505050"/><rect x="232.5" y="148.20000000000002" width="11" height="2.8" fill="#c0c0c0"/><rect x="264.0" y="148.20000000000002" width="7" height="2.8" fill="#c0c0c0"/><rect x="291.0" y="148.20000000000002" width="7" height="2.8" fill="#c0c0c0"/><rect x="318.0" y="148.20000000000002" width="11" height="2.8" fill="#c0c0c0"/><rect x="204.0" y="156.3" width="3.6" height="18.5" fill="#e6e6e6"/><rect x="351.59999999999997" y="157" width="3.6" height="18.5" fill="#e6e6e6"/><rect x="234.5" y="157.5" width="90.19999999999999" height="9" fill="#060606"/><rect x="228.5" y="170.4" width="103.19999999999999" height="9" fill="#555"/><circle cx="231.5" cy="173.8" r="2.1" fill="#b4b4b4"/><circle cx="238.7" cy="173.8" r="2.1" fill="#b4b4b4"/><circle cx="245.9" cy="173.8" r="2.1" fill="#b4b4b4"/><circle cx="253.1" cy="173.8" r="2.1" fill="#b4b4b4"/><circle cx="260.3" cy="173.8" r="2.1" fill="#b4b4b4"/><circle cx="267.5" cy="173.8" r="2.1" fill="#b4b4b4"/><circle cx="274.7" cy="173.8" r="2.1" fill="#b4b4b4"/><circle cx="281.9" cy="173.8" r="2.1" fill="#b4b4b4"/><circle cx="289.1" cy="173.8" r="2.1" fill="#b4b4b4"/><circle cx="296.3" cy="173.8" r="2.1" fill="#b4b4b4"/><circle cx="303.5" cy="173.8" r="2.1" fill="#b4b4b4"/><circle cx="310.7" cy="173.8" r="2.1" fill="#b4b4b4"/><circle cx="317.9" cy="173.8" r="2.1" fill="#b4b4b4"/><circle cx="325.1" cy="173.8" r="2.1" fill="#b4b4b4"/><circle cx="332.3" cy="173.8" r="2.1" fill="#b4b4b4"/><circle cx="232.5" cy="178.3" r="1.4" fill="#ececec"/><circle cx="242.5" cy="178.3" r="1.4" fill="#ececec"/><circle cx="252.5" cy="178.3" r="1.4" fill="#ececec"/><circle cx="262.5" cy="178.3" r="1.4" fill="#ececec"/><circle cx="272.5" cy="178.3" r="1.4" fill="#ececec"/><circle cx="282.5" cy="178.3" r="1.4" fill="#ececec"/><circle cx="292.5" cy="178.3" r="1.4" fill="#ececec"/><circle cx="302.5" cy="178.3" r="1.4" fill="#ececec"/><circle cx="312.5" cy="178.3" r="1.4" fill="#ececec"/><circle cx="322.5" cy="178.3" r="1.4" fill="#ececec"/><circle cx="332.5" cy="178.3" r="1.4" fill="#ececec"/><rect x="230.5" y="182.5" width="98.19999999999999" height="10.5" fill="#080808" stroke="#3a3a3a" stroke-width="1"/><rect x="280.6" y="156" width="9" height="11" fill="#2e2e2e"/><rect x="280.6" y="182" width="9" height="11" fill="#2e2e2e"/><path d="M208.8,182.8 L225.7,195.4 H334.5 L349.7,184" fill="none" stroke="#f2f2f2" stroke-width="2.1"/><path d="M204.7,177 L206.9,187.2 L223.9,200.6 H335.3 L352.3,187.2 L354.5,177" fill="none" stroke="#d0d0d0" stroke-width="1.3"/>
<path d="M430.6,147.4 H585.0 V184.3 L568.8,203.5 H446.8 L430.6,184.3 Z" fill="#111"/><path d="M435.6,151.9 H580.0 V182.3 L566.0,198.5 H449.6 L435.6,182.3 Z" fill="#2a2a2a"/><rect x="455.6" y="148.6" width="104.39999999999998" height="2.2" fill="#505050"/><rect x="460.6" y="148.20000000000002" width="11" height="2.8" fill="#c0c0c0"/><rect x="492.1" y="148.20000000000002" width="7" height="2.8" fill="#c0c0c0"/><rect x="519.1" y="148.20000000000002" width="7" height="2.8" fill="#c0c0c0"/><rect x="546.1" y="148.20000000000002" width="11" height="2.8" fill="#c0c0c0"/><rect x="432.1" y="156.3" width="3.6" height="18.5" fill="#e6e6e6"/><rect x="579.9" y="157" width="3.6" height="18.5" fill="#e6e6e6"/><rect x="462.6" y="157.5" width="90.39999999999998" height="9" fill="#060606"/><rect x="456.6" y="170.4" width="103.39999999999998" height="9" fill="#555"/><circle cx="459.6" cy="173.8" r="2.1" fill="#b4b4b4"/><circle cx="466.8" cy="173.8" r="2.1" fill="#b4b4b4"/><circle cx="474.0" cy="173.8" r="2.1" fill="#b4b4b4"/><circle cx="481.2" cy="173.8" r="2.1" fill="#b4b4b4"/><circle cx="488.4" cy="173.8" r="2.1" fill="#b4b4b4"/><circle cx="495.6" cy="173.8" r="2.1" fill="#b4b4b4"/><circle cx="502.8" cy="173.8" r="2.1" fill="#b4b4b4"/><circle cx="510.0" cy="173.8" r="2.1" fill="#b4b4b4"/><circle cx="517.2" cy="173.8" r="2.1" fill="#b4b4b4"/><circle cx="524.4" cy="173.8" r="2.1" fill="#b4b4b4"/><circle cx="531.6" cy="173.8" r="2.1" fill="#b4b4b4"/><circle cx="538.8" cy="173.8" r="2.1" fill="#b4b4b4"/><circle cx="546.0" cy="173.8" r="2.1" fill="#b4b4b4"/><circle cx="553.2" cy="173.8" r="2.1" fill="#b4b4b4"/><circle cx="560.4" cy="173.8" r="2.1" fill="#b4b4b4"/><circle cx="460.6" cy="178.3" r="1.4" fill="#ececec"/><circle cx="470.6" cy="178.3" r="1.4" fill="#ececec"/><circle cx="480.6" cy="178.3" r="1.4" fill="#ececec"/><circle cx="490.6" cy="178.3" r="1.4" fill="#ececec"/><circle cx="500.6" cy="178.3" r="1.4" fill="#ececec"/><circle cx="510.6" cy="178.3" r="1.4" fill="#ececec"/><circle cx="520.6" cy="178.3" r="1.4" fill="#ececec"/><circle cx="530.6" cy="178.3" r="1.4" fill="#ececec"/><circle cx="540.6" cy="178.3" r="1.4" fill="#ececec"/><circle cx="550.6" cy="178.3" r="1.4" fill="#ececec"/><circle cx="560.6" cy="178.3" r="1.4" fill="#ececec"/><rect x="458.6" y="182.5" width="98.39999999999998" height="10.5" fill="#080808" stroke="#3a3a3a" stroke-width="1"/><rect x="508.8" y="156" width="9" height="11" fill="#2e2e2e"/><rect x="508.8" y="182" width="9" height="11" fill="#2e2e2e"/><path d="M436.90000000000003,182.8 L453.8,195.4 H562.8 L578.0,184" fill="none" stroke="#f2f2f2" stroke-width="2.1"/><path d="M432.8,177 L435.0,187.2 L452.0,200.6 H563.6 L580.6,187.2 L582.8,177" fill="none" stroke="#d0d0d0" stroke-width="1.3"/>
<g fill="none" stroke="#7da3b8" stroke-width="4">
<path d="M277,173 V327 A13,13 0 0 1 264,340 H224"/>
<path d="M511,173 V327 A13,13 0 0 0 524,340 H584"/>
</g>
<circle cx="277.3" cy="173" r="10.6" fill="#7aa8c6" stroke="#a8cce2" stroke-width="1.3"/>
<circle cx="510.7" cy="173.2" r="10.6" fill="#7aa8c6" stroke="#a8cce2" stroke-width="1.3"/>
<g fill="#78a4c1">
<path d="M24.3,376.5 V325 Q125,300 225.7,325.4 V376.5 Z"/>
<circle cx="123.7" cy="339" r="38"/><path d="M84,316.5 Q93,314.5 97.2,311.8 L150.2,311.8 Q154.4,314.5 163.4,316.5 Z"/>
<polygon points="31,376 43.3,376 38.8,383.6 31,383.6"/>
<polygon points="206.7,376 218.5,376 218.5,383.4 212.1,383.4"/>
</g>
<rect x="24" y="356" width="67.3" height="3.2" fill="#fff"/>
<rect x="156" y="356" width="70" height="3.2" fill="#fff"/>
<circle cx="123.7" cy="339" r="27.5" fill="#fff"/>
<circle cx="123.7" cy="339" r="19.5" fill="#78a4c1"/>
<rect x="585.2" y="281" width="194.7" height="120" fill="none" stroke="#78a4c1" stroke-width="6"/>
<rect x="661" y="403" width="42.6" height="9.5" fill="#78a4c1"/>
<polygon points="632,412 732,412 752,427 612.4,427" fill="#78a4c1"/>
<text x="28.2" y="433.2" font-size="34.6" fill="#111" stroke="#111" stroke-width="1.1" stroke-linejoin="round" textLength="115.8" lengthAdjust="spacingAndGlyphs">Projector</text>
<text x="531.2" y="423.7" font-size="35.8" fill="#111" stroke="#111" stroke-width="1.1" stroke-linejoin="round" textLength="32.5" lengthAdjust="spacingAndGlyphs">TV</text>
</g></svg>
</body></html>
